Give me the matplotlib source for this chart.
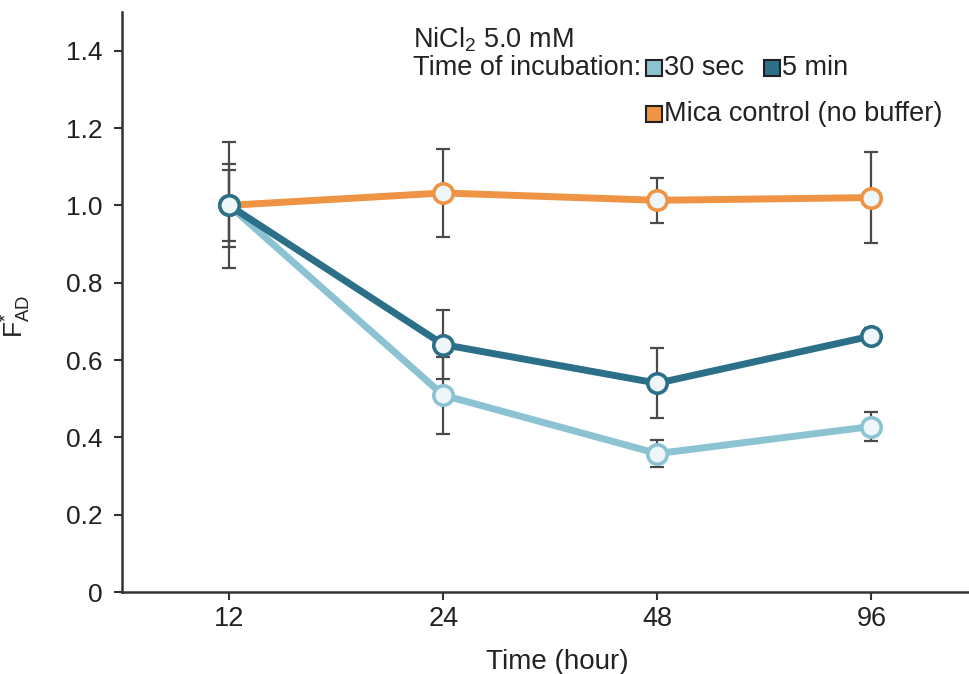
import matplotlib
matplotlib.use("Agg")
import matplotlib.pyplot as plt
from matplotlib.patches import Rectangle

plt.rcParams['font.family'] = ['Liberation Sans', 'DejaVu Sans']
plt.rcParams['mathtext.fontset'] = 'custom'
plt.rcParams['mathtext.rm'] = 'Liberation Sans'
plt.rcParams['mathtext.it'] = 'Liberation Sans'

categories = ['12', '24', '48', '96']
light_30sec = [1.0, 0.509, 0.358, 0.428]
light_err = [0.163, 0.10, 0.036, 0.037]
dark_5min = [1.0, 0.640, 0.540, 0.662]
dark_err = [0.108, 0.09, 0.09, 0.02]
mica = [1.0, 1.032, 1.013, 1.020]
mica_err = [0.092, 0.113, 0.058, 0.118]
yticks = [0, 0.2, 0.4, 0.6, 0.8, 1.0, 1.2, 1.4]
ytick_labels = ['0', '0.2', '0.4', '0.6', '0.8', '1.0', '1.2', '1.4']

c_light = '#8CC3D3'
c_dark = '#2B7088'
c_orange = '#EF9444'
c_fill = '#EEF6FA'
c_err = '#4a4a4a'

fig = plt.figure(figsize=(9.7, 6.74), dpi=100)
ax = fig.add_axes([122/970, 82/674, 848/970, 580/674])

x = list(range(len(categories)))
series = [
    (light_30sec, light_err, c_light, 3),
    (mica, mica_err, c_orange, 4),
    (dark_5min, dark_err, c_dark, 5),
]
for vals, err, col, z in series:
    ax.errorbar(x, vals, yerr=err, fmt='none', ecolor=c_err, elinewidth=1.6,
                capsize=5, capthick=1.6, zorder=2)
for vals, err, col, z in series:
    ax.plot(x, vals, color=col, lw=5, marker='o', markersize=14,
            markerfacecolor=c_fill, markeredgecolor=col, markeredgewidth=2.6,
            zorder=z, solid_capstyle='butt')

ax.set_xlim(-0.5, 3.46)
ax.set_ylim(0, 1.5)
ax.set_xticks(x)
ax.set_xticklabels(categories, fontsize=19.5)
ax.set_yticks(yticks)
ax.set_yticklabels(ytick_labels, fontsize=19)
for s in ['top', 'right']:
    ax.spines[s].set_visible(False)
for s in ['left', 'bottom']:
    ax.spines[s].set_linewidth(1.8)
    ax.spines[s].set_color('#333333')
ax.tick_params(axis='both', direction='out', length=6, width=1.5, color='#333333',
               labelcolor='#222222')
ax.tick_params(axis='y', pad=8)
ax.tick_params(axis='x', pad=4)
ax.set_xlabel('Time (hour)', fontsize=20, color='#222222')
ax.xaxis.set_label_coords(0.513, -0.098)
ax.set_ylabel(r'F$^{*}_{\mathregular{AD}}$', fontsize=19, color='#222222')
ax.yaxis.set_label_coords(-0.105, 0.475)

# legend block
tc = '#222222'
fig.text(413/970, 1 - 40/674, r'NiCl$_{2}$ 5.0 mM', fontsize=19.5, color=tc, va='center')
fig.text(413/970, 1 - 68/674, 'Time of incubation:', fontsize=19.5, color=tc, va='center')
sq = 16
for (px, py, col, label) in [(646, 68, c_light, '30 sec'), (764, 68, c_dark, '5 min'),
                             (646, 114, c_orange, 'Mica control (no buffer)')]:
    fig.patches.append(Rectangle((px/970, 1 - (py + sq/2)/674), sq/970, sq/674,
                                 transform=fig.transFigure, facecolor=col,
                                 edgecolor='#222222', lw=1.5))
    fig.text((px + sq + 2)/970, 1 - py/674, label, fontsize=19.5, color=tc, va='center')

fig.savefig('out.png', dpi=100)
